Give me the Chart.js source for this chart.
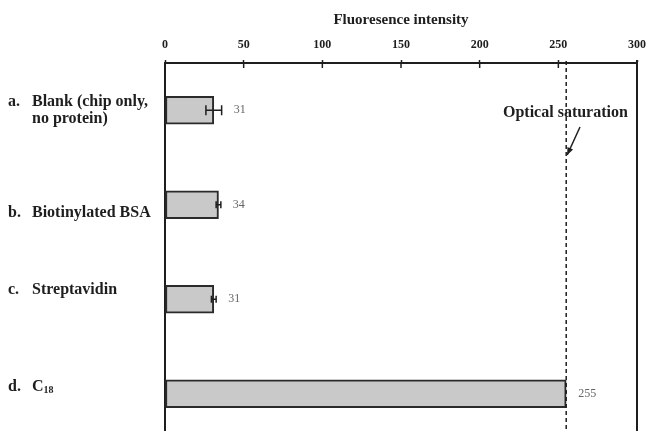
<!DOCTYPE html>
<html>
<head>
<meta charset="utf-8">
<script src="https://cdn.jsdelivr.net/npm/chart.js@4.4.1/dist/chart.umd.min.js"></script>
<style>
    html, body { margin: 0; padding: 0; background: #fff; overflow: hidden; }
    #wrap { width: 647px; height: 445px; position: relative; }
</style>
</head>
<body>
<div id="wrap"><canvas id="fluorChart"></canvas></div>
<script>
// ============================================================================
// FLUORESCENCE INTENSITY BAR CHART
// ============================================================================

const labelPrefixes = ['a.', 'b.', 'c.', 'd.'];
const labelLines = [
    ['Blank (chip only,', 'no protein)'],
    ['Biotinylated BSA'],
    ['Streptavidin'],
    ['C_18']
];
const intensity = [31, 34, 31, 255];
const errorSize = [5, 1.5, 1.5, 0];
const valueLabels = ['31', '34', '31', '255'];
const xTickValues = [0, 50, 100, 150, 200, 250, 300];
const axisTitle = 'Fluoresence intensity';
const saturationLevel = 255;
const saturationLabel = 'Optical saturation';

const INK = '#1e1e1e';
const SERIF = '"Liberation Serif", "Times New Roman", serif';

// small vertical nudges so labels sit where the original text boxes were
const labelNudge = [0, 8, -9, -7];

const extrasPlugin = {
    id: 'figureExtras',
    afterDatasetsDraw(chart) {
        const ctx = chart.ctx;
        const xs = chart.scales.x;
        const ys = chart.scales.y;
        const area = chart.chartArea;
        ctx.save();

        // inner half of the axis ticks
        ctx.strokeStyle = INK;
        ctx.lineWidth = 1.5;
        xTickValues.forEach(v => {
            const px = xs.getPixelForValue(v);
            ctx.beginPath();
            ctx.moveTo(px, area.top);
            ctx.lineTo(px, area.top + 5);
            ctx.stroke();
        });

        // right frame line
        ctx.lineWidth = 2;
        ctx.beginPath();
        ctx.moveTo(area.right, area.top - 3);
        ctx.lineTo(area.right, area.bottom);
        ctx.stroke();

        // saturation line
        const sx = xs.getPixelForValue(saturationLevel);
        ctx.lineWidth = 1.5;
        ctx.setLineDash([4, 3]);
        ctx.beginPath();
        ctx.moveTo(sx, area.top - 2);
        ctx.lineTo(sx, area.bottom);
        ctx.stroke();
        ctx.setLineDash([]);

        // error bars + value labels
        intensity.forEach((v, i) => {
            const cy = ys.getPixelForValue(i);
            const e = errorSize[i];
            const lo = xs.getPixelForValue(v - e);
            const hi = xs.getPixelForValue(v + e);
            if (e > 0) {
                const cap = e > 3 ? 5 : 3.5;
                ctx.lineWidth = 1.5;
                ctx.beginPath();
                ctx.moveTo(lo, cy); ctx.lineTo(hi, cy);
                ctx.moveTo(lo, cy - cap); ctx.lineTo(lo, cy + cap);
                ctx.moveTo(hi, cy - cap); ctx.lineTo(hi, cy + cap);
                ctx.stroke();
            }
            ctx.fillStyle = '#666';
            ctx.font = '12px ' + SERIF;
            ctx.textAlign = 'left';
            ctx.textBaseline = 'middle';
            ctx.fillText(valueLabels[i], Math.max(hi, xs.getPixelForValue(v)) + 12, cy);
        });

        // category labels
        ctx.fillStyle = INK;
        ctx.textBaseline = 'middle';
        labelLines.forEach((lines, i) => {
            const cy = ys.getPixelForValue(i) + labelNudge[i];
            const lh = 17;
            const y0 = cy - (lines.length - 1) * lh / 2;
            ctx.font = 'bold 16px ' + SERIF;
            ctx.fillText(labelPrefixes[i], 8, y0);
            lines.forEach((ln, k) => {
                const y = y0 + k * lh;
                const parts = ln.split('_');
                ctx.font = 'bold 16px ' + SERIF;
                ctx.fillText(parts[0], 32, y);
                if (parts[1]) {
                    const w = ctx.measureText(parts[0]).width;
                    ctx.font = 'bold 10px ' + SERIF;
                    ctx.fillText(parts[1], 32 + w, y + 4);
                }
            });
        });

        // saturation annotation and arrow
        ctx.font = 'bold 16px ' + SERIF;
        ctx.textAlign = 'left';
        ctx.fillText(saturationLabel, 503, 113);
        const ax0 = 580, ay0 = 127, ax1 = sx + 1, ay1 = 155;
        ctx.lineWidth = 1.5;
        ctx.beginPath();
        ctx.moveTo(ax0, ay0);
        ctx.lineTo(ax1, ay1);
        ctx.stroke();
        const ang = Math.atan2(ay1 - ay0, ax1 - ax0);
        ctx.beginPath();
        ctx.moveTo(ax1, ay1);
        ctx.lineTo(ax1 - 8 * Math.cos(ang - 0.4), ay1 - 8 * Math.sin(ang - 0.4));
        ctx.lineTo(ax1 - 8 * Math.cos(ang + 0.4), ay1 - 8 * Math.sin(ang + 0.4));
        ctx.closePath();
        ctx.fill();

        ctx.restore();
    }
};

const ctx = document.getElementById('fluorChart').getContext('2d');
const chart = new Chart(ctx, {
    type: 'bar',
    data: {
        labels: labelPrefixes.map((p, i) => p + ' ' + labelLines[i].join(' ')),
        datasets: [{
            label: axisTitle,
            data: intensity,
            backgroundColor: '#c9c9c9',
            borderColor: '#2a2a2a',
            borderWidth: 2,
            borderSkipped: false,
            barThickness: 28
        }]
    },
    options: {
        indexAxis: 'y',
        responsive: true,
        maintainAspectRatio: false,
        animation: false,
        layout: { padding: { top: 0, right: 10, bottom: 4, left: 0 } },
        plugins: {
            legend: { display: false },
            tooltip: { enabled: true }
        },
        scales: {
            x: {
                position: 'top',
                min: 0,
                max: 300,
                afterBuildTicks: s => { s.ticks = xTickValues.map(v => ({ value: v })); },
                afterFit: s => { s.height = 63; s.paddingLeft = 0; s.paddingRight = 0; },
                title: {
                    display: true,
                    text: axisTitle,
                    color: INK,
                    font: { family: SERIF, size: 15, weight: 'bold' },
                    padding: { top: 11, bottom: 0 }
                },
                grid: {
                    drawOnChartArea: false,
                    drawTicks: true,
                    tickLength: 3,
                    tickWidth: 1.5,
                    tickColor: INK
                },
                border: { display: true, color: INK, width: 2 },
                ticks: {
                    color: INK,
                    padding: 8,
                    font: { family: SERIF, size: 12, weight: 'bold' },
                    maxRotation: 0
                }
            },
            y: {
                afterFit: s => { s.width = 165; },
                grid: { drawOnChartArea: false, drawTicks: false },
                border: { display: true, color: INK, width: 2 },
                ticks: { display: false }
            }
        }
    },
    plugins: [extrasPlugin]
});
</script>
</body>
</html>
